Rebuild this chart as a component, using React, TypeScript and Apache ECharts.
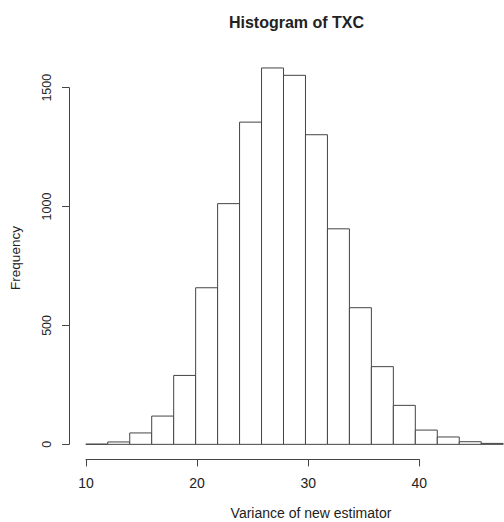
import React, { useEffect, useRef } from "react";
import * as echarts from "echarts";

const binStarts = [10, 12, 14, 16, 18, 20, 22, 24, 26, 28, 30, 32, 34, 36, 38, 40, 42, 44, 46];
const binWidth = 2;
const counts = [1, 10, 48, 119, 290, 659, 1013, 1356, 1584, 1553, 1303, 907, 575, 327, 164, 60, 31, 11, 4];
const xTicks = [10, 20, 30, 40];
const yTicks = [0, 500, 1000, 1500];
const titleText = "Histogram of TXC";
const xName = "Variance of new estimator";
const yName = "Frequency";

const FONT = "'Liberation Sans', Arial, sans-serif";
const INK = "#222";
const LINE = "#444";

export default function App() {
  const ref = useRef<HTMLDivElement>(null);
  useEffect(() => {
    if (!ref.current) return;
    const chart = echarts.init(ref.current, undefined, { renderer: "svg" });
    const maxCount = Math.max(...counts);
    const yMin = -0.04 * maxCount;
    const yMax = 1.04 * maxCount;
    const data = binStarts.map((s, i) => [s, s + binWidth, counts[i]]);
    const xStep = xTicks[1] - xTicks[0];
    const yStep = yTicks[1] - yTicks[0];
    chart.setOption({
      animation: false,
      backgroundColor: "#fff",
      grid: [
        { left: 69, top: 52.9, width: 440, height: 406.5 },
        { left: 86, top: 400, width: 333.3, height: 59.4 },
        { left: 69, top: 87.7, width: 100, height: 356.6 },
      ],
      xAxis: [
        { gridIndex: 0, type: "value", min: 8.47, max: 8.47 + 440 / 11.11, show: false },
        {
          gridIndex: 1,
          type: "value",
          min: xTicks[0],
          max: xTicks[xTicks.length - 1],
          interval: xStep,
          position: "bottom",
          axisLine: { show: true, lineStyle: { color: LINE, width: 1 } },
          axisTick: { show: true, length: 7, inside: false, lineStyle: { color: LINE } },
          axisLabel: { show: true, margin: 17, fontSize: 14, color: INK, fontFamily: FONT },
          splitLine: { show: false },
        },
        { gridIndex: 2, type: "value", show: false },
      ],
      yAxis: [
        { gridIndex: 0, type: "value", min: yMin, max: yMax, show: false },
        { gridIndex: 1, type: "value", show: false },
        {
          gridIndex: 2,
          type: "value",
          min: yTicks[0],
          max: yTicks[yTicks.length - 1],
          interval: yStep,
          position: "left",
          axisLine: { show: true, lineStyle: { color: LINE, width: 1 } },
          axisTick: { show: true, length: 7, inside: false, lineStyle: { color: LINE } },
          axisLabel: {
            show: true,
            rotate: 90,
            margin: 16,
            fontSize: 12.5,
            color: INK,
            fontFamily: FONT,
            formatter: (v: number) => String(v),
          },
          splitLine: { show: false },
        },
      ],
      graphic: [
        {
          type: "text",
          x: 296.5,
          y: 22,
          style: {
            text: titleText,
            fill: INK,
            font: `bold 16px ${FONT}`,
            textAlign: "center",
            textVerticalAlign: "middle",
          },
        },
        {
          type: "text",
          x: 311,
          y: 513,
          style: {
            text: xName,
            fill: INK,
            font: `14px ${FONT}`,
            textAlign: "center",
            textVerticalAlign: "middle",
          },
        },
        {
          type: "text",
          x: 15,
          y: 258,
          rotation: Math.PI / 2,
          style: {
            text: yName,
            fill: INK,
            font: `13.5px ${FONT}`,
            textAlign: "center",
            textVerticalAlign: "middle",
          },
        },
      ],
      series: [
        {
          type: "custom",
          xAxisIndex: 0,
          yAxisIndex: 0,
          encode: { x: [0, 1], y: 2 },
          data,
          renderItem: (params: any, api: any) => {
            const lo = api.coord([api.value(0), 0]);
            const hi = api.coord([api.value(1), api.value(2)]);
            return {
              type: "rect",
              shape: { x: lo[0], y: hi[1], width: hi[0] - lo[0], height: lo[1] - hi[1] },
              style: { fill: "#fff", stroke: LINE, lineWidth: 1 },
            };
          },
        },
      ],
    });
    return () => chart.dispose();
  }, []);
  return (
    <div
      ref={ref}
      style={{ position: "fixed", left: 0, top: 0, width: 504, height: 522, background: "#fff" }}
    />
  );
}
